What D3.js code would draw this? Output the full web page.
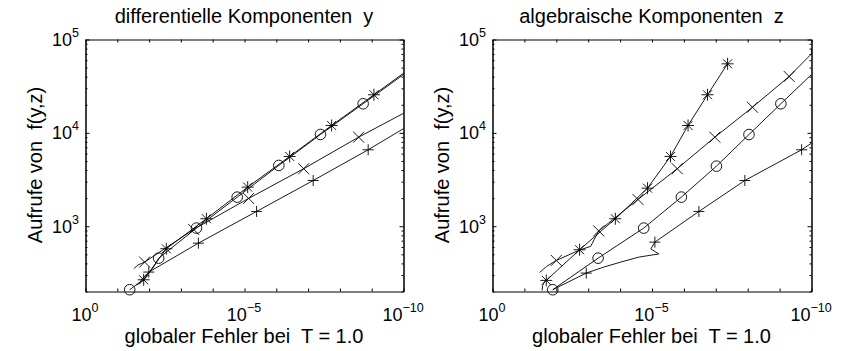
<!DOCTYPE html>
<html>
<head>
<meta charset="utf-8">
<script src="https://cdn.jsdelivr.net/npm/d3@7"></script>
<style>
  html, body { margin: 0; padding: 0; background: #fff; }
  svg { display: block; }
  text { font-family: "Liberation Sans", Arial, Helvetica, sans-serif; fill: #000; white-space: pre; }
</style>
</head>
<body>
<svg id="chart" width="854" height="351"></svg>
<script>
// ---------------- data ----------------
const panelTitles = ["differentielle Komponenten  y", "algebraische Komponenten  z"];
const xLabel = "globaler Fehler bei  T = 1.0";
const yLabel = "Aufrufe von  f(y,z)";
const xDomain = [1, 1e-10];
const yDomain = [200, 1e5];
const xTickValues = [1, 1e-1, 1e-2, 1e-3, 1e-4, 1e-5, 1e-6, 1e-7, 1e-8, 1e-9, 1e-10];
const xTickLabels = [[1, "0"], [1e-5, "\u22125"], [1e-10, "\u221210"]];
const yTickLabels = [[1e3, "3"], [1e4, "4"], [1e5, "5"]];
const yMajorTicks = [1e3, 1e4, 1e5];
const yMinorTicks = [200, 300, 400, 500, 600, 700, 800, 900,
  2000, 3000, 4000, 5000, 6000, 7000, 8000, 9000,
  20000, 30000, 40000, 50000, 60000, 70000, 80000, 90000];

// left panel: differential components y   [global error, calls]
const yCircleLine = [[4.07e-2,209],[1.51e-2,269],[7.76e-3,353],[5.01e-3,455],[3.24e-4,955],[1.70e-5,2050],[8.32e-7,4480],[4.07e-8,9620],[1.86e-9,20500],[1e-10,42200]];
const yCircleMarks = [[4.07e-2,209],[5.01e-3,455],[3.24e-4,955],[1.70e-5,2050],[8.32e-7,4480],[4.07e-8,9620],[1.86e-9,20500]];
const yStarLine = [[2.51e-2,234],[1.48e-2,267],[2.88e-3,574],[1.58e-4,1203],[7.94e-6,2624],[3.80e-7,5590],[1.82e-8,12000],[8.51e-10,25600],[1e-10,43600]];
const yStarMarks = [[1.48e-2,267],[2.88e-3,574],[1.58e-4,1203],[7.94e-6,2624],[3.80e-7,5590],[1.82e-8,12000],[8.51e-10,25600]];
const yXLine = [[3.02e-2,351],[2.24e-2,385],[1.38e-2,413],[3.98e-4,925],[7.41e-6,1986],[1.38e-7,4130],[2.57e-9,9000],[1e-10,16200]];
const yXMarks = [[1.38e-2,413],[3.98e-4,925],[7.41e-6,1986],[1.38e-7,4130],[2.57e-9,9000]];
const yPlusLine = [[1.86e-2,263],[1.02e-2,323],[2.82e-4,659],[4.17e-6,1440],[6.92e-8,3090],[1.29e-9,6590],[1e-10,11100]];
const yPlusMarks = [[1.02e-2,323],[2.82e-4,659],[4.17e-6,1440],[6.92e-8,3090],[1.29e-9,6590]];

// right panel: algebraic components z
const zStarLine = [[2.79e-2,205],[2.69e-2,232],[2.33e-2,256],[2.06e-2,263],[1.86e-3,560],[1.41e-4,1203],[1.38e-5,2559],[2.63e-6,5590],[7.41e-7,12000],[1.82e-7,25600],[4.27e-8,54900]];
const zStarMarks = [[2.06e-2,263],[1.86e-3,560],[1.41e-4,1203],[1.38e-5,2559],[2.63e-6,5590],[7.41e-7,12000],[1.82e-7,25600],[4.27e-8,54900]];
const zCircleLine = [[1.29e-2,209],[4.90e-4,455],[1.82e-5,955],[1.20e-6,2051],[9.55e-8,4400],[9.12e-9,9600],[9.12e-10,20500],[1e-10,42200]];
const zCircleMarks = [[1.29e-2,209],[4.90e-4,455],[1.82e-5,955],[1.20e-6,2051],[9.55e-8,4400],[9.12e-9,9600],[9.12e-10,20500]];
const zXLine = [[3.34e-2,320],[2.02e-2,371],[1.0e-2,430],[1.86e-3,557],[8.38e-4,608],[4.68e-4,891],[2.75e-5,1936],[1.62e-6,4130],[1.07e-7,8990],[7.08e-9,18800],[5.01e-10,40200],[1e-10,70300],[1e-10,78200]];
const zXMarks = [[1.0e-2,430],[4.68e-4,891],[2.75e-5,1936],[1.62e-6,4130],[1.07e-7,8990],[7.08e-9,18800],[5.01e-10,40200]];
const zPlusLine = [[1.29e-2,209],[1.15e-3,315],[3.27e-4,365],[9.57e-5,413],[2.61e-5,467],[6.14e-6,505],[1.09e-5,571],[8.13e-6,676],[3.39e-7,1440],[1.23e-8,3090],[2.04e-10,6590],[1e-10,7760]];
const zPlusMarks = [[1.15e-3,315],[8.13e-6,676],[3.39e-7,1440],[1.23e-8,3090],[2.04e-10,6590]];

// ---------------- layout ----------------
const panels = [
  { left: 85, right: 403, title: panelTitles[0],
    series: [
      { line: yCircleLine, marks: yCircleMarks, marker: "o" },
      { line: yStarLine, marks: yStarMarks, marker: "*" },
      { line: yXLine, marks: yXMarks, marker: "x" },
      { line: yPlusLine, marks: yPlusMarks, marker: "+" } ] },
  { left: 492, right: 811, title: panelTitles[1],
    series: [
      { line: zCircleLine, marks: zCircleMarks, marker: "o" },
      { line: zStarLine, marks: zStarMarks, marker: "*" },
      { line: zXLine, marks: zXMarks, marker: "x" },
      { line: zPlusLine, marks: zPlusMarks, marker: "+" } ] }
];
const plotTop = 39, plotBottom = 291;
const tickFont = 18, supFont = 12.5, labelFont = 20;

const svg = d3.select("#chart");

function markerPath(type) {
  const p = d3.path();
  if (type === "x") {
    const h = 5.5;
    p.moveTo(-h, -h); p.lineTo(h, h); p.moveTo(-h, h); p.lineTo(h, -h);
  } else if (type === "+") {
    const h = 5.5;
    p.moveTo(-h, 0); p.lineTo(h, 0); p.moveTo(0, -h); p.lineTo(0, h);
  } else if (type === "*") {
    const h = 6, d = 6 * 0.75;
    p.moveTo(-h, 0); p.lineTo(h, 0); p.moveTo(0, -h); p.lineTo(0, h);
    p.moveTo(-d, -d); p.lineTo(d, d); p.moveTo(-d, d); p.lineTo(d, -d);
  }
  return p.toString();
}

panels.forEach(pn => {
  const x = d3.scaleLog().domain(xDomain).range([pn.left, pn.right]);
  const y = d3.scaleLog().domain(yDomain).range([plotBottom, plotTop]);
  const g = svg.append("g").attr("transform", "translate(0.5,0.5)");

  const styleAxis = sel => {
    sel.selectAll("path.domain").attr("stroke", "#000").attr("stroke-width", 1);
    sel.selectAll(".tick line").attr("stroke", "#000").attr("stroke-width", 1);
    sel.selectAll(".tick text").remove();
  };
  g.append("g").attr("transform", `translate(0,${plotBottom})`)
    .call(d3.axisBottom(x).tickValues(xTickValues).tickFormat("").tickSizeInner(-3).tickSizeOuter(0)).call(styleAxis);
  g.append("g").attr("transform", `translate(0,${plotTop})`)
    .call(d3.axisTop(x).tickValues(xTickValues).tickFormat("").tickSizeInner(-3).tickSizeOuter(0)).call(styleAxis);
  g.append("g").attr("transform", `translate(${pn.left},0)`)
    .call(d3.axisLeft(y).tickValues(yMajorTicks).tickFormat("").tickSizeInner(-4).tickSizeOuter(0)).call(styleAxis);
  g.append("g").attr("transform", `translate(${pn.left},0)`)
    .call(d3.axisLeft(y).tickValues(yMinorTicks).tickFormat("").tickSizeInner(-2).tickSizeOuter(0)).call(styleAxis);
  g.append("g").attr("transform", `translate(${pn.right},0)`)
    .call(d3.axisRight(y).tickValues(yMajorTicks).tickFormat("").tickSizeInner(-4).tickSizeOuter(0)).call(styleAxis);
  g.append("g").attr("transform", `translate(${pn.right},0)`)
    .call(d3.axisRight(y).tickValues(yMinorTicks).tickFormat("").tickSizeInner(-2).tickSizeOuter(0)).call(styleAxis);

  xTickLabels.forEach(([v, e]) => {
    const t = svg.append("text").attr("x", x(v)).attr("y", plotBottom + 30)
      .attr("text-anchor", "middle").attr("font-size", tickFont);
    t.append("tspan").text("10");
    t.append("tspan").attr("dy", -9).attr("font-size", supFont).text(e);
  });
  yTickLabels.forEach(([v, e]) => {
    const t = svg.append("text").attr("x", pn.left - 6).attr("y", y(v) + 7)
      .attr("text-anchor", "end").attr("font-size", tickFont);
    t.append("tspan").text("10");
    t.append("tspan").attr("dy", -9).attr("font-size", supFont).text(e);
  });

  svg.append("text").attr("x", (pn.left + pn.right) / 2).attr("y", 23)
    .attr("text-anchor", "middle").attr("font-size", labelFont).text(pn.title);
  svg.append("text").attr("x", (pn.left + pn.right) / 2).attr("y", 343)
    .attr("text-anchor", "middle").attr("font-size", labelFont).text(xLabel);
  svg.append("text").attr("transform", `translate(${pn.left - 43},${(plotTop + plotBottom) / 2}) rotate(-90)`)
    .attr("text-anchor", "middle").attr("font-size", labelFont).text(yLabel);

  const line = d3.line().x(d => x(d[0])).y(d => y(d[1]));
  pn.series.forEach(s => {
    g.append("path").datum(s.line).attr("d", line)
      .attr("fill", "none").attr("stroke", "#000").attr("stroke-width", 0.9);
    if (s.marker === "o") {
      g.selectAll(null).data(s.marks).enter().append("circle")
        .attr("cx", d => x(d[0])).attr("cy", d => y(d[1])).attr("r", 5.3)
        .attr("fill", "none").attr("stroke", "#000").attr("stroke-width", 0.9);
    } else {
      const pd = markerPath(s.marker);
      g.selectAll(null).data(s.marks).enter().append("path")
        .attr("transform", d => `translate(${x(d[0])},${y(d[1])})`)
        .attr("d", pd).attr("fill", "none").attr("stroke", "#000").attr("stroke-width", 0.9);
    }
  });
});
</script>
</body>
</html>
